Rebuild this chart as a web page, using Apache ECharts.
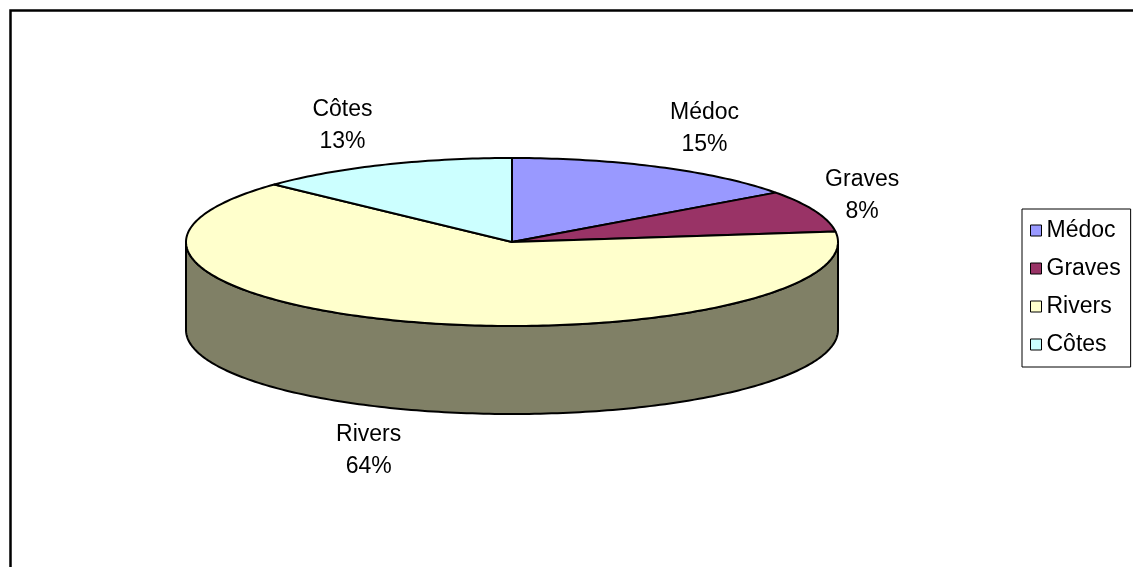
<!DOCTYPE html>
<html>
<head>
<meta charset="utf-8">
<style>
html,body{margin:0;padding:0;background:#fff;}
#chart{width:1133px;height:567px;}
</style>
<script src="https://cdn.jsdelivr.net/npm/echarts@6/dist/echarts.min.js"></script>
</head>
<body>
<div id="chart"></div>
<script>
// ---- data ----
const categories = ['Médoc', 'Graves', 'Rivers', 'Côtes'];
const values = [15, 8, 64, 13];
const topColors = ['#9999FF', '#993366', '#FFFFCC', '#CCFFFF'];
const sideColors = ['#4D4D80', '#4D1A33', '#808066', '#668080'];

// ---- layout / style ----
const CX = 512, CY = 242, RX = 326, RY = 84, DEPTH = 88;
const FONT = '23px "Liberation Sans", Arial, sans-serif';
const total = values.reduce((a, b) => a + b, 0);

const measureCtx = document.createElement('canvas').getContext('2d');
measureCtx.font = FONT;
function textWidth(lines) {
  return Math.max.apply(null, lines.map(l => measureCtx.measureText(l).width));
}
function pt(t, dy) {
  return [CX + RX * Math.sin(t), CY - RY * Math.cos(t) + (dy || 0)];
}
function arc(a, b, dy) {
  const pts = [];
  const n = Math.max(2, Math.ceil(Math.abs(b - a) / (Math.PI / 180)));
  for (let k = 0; k <= n; k++) pts.push(pt(a + (b - a) * k / n, dy));
  return pts;
}

function renderItem(params, api) {
  const i = params.seriesIndex;
  let cum = 0;
  for (let k = 0; k < i; k++) cum += values[k];
  const start = cum / total * Math.PI * 2;
  const end = (cum + values[i]) / total * Math.PI * 2;
  const children = [];
  // visible side (front half between 90° and 270°)
  const a = Math.max(start, Math.PI / 2), b = Math.min(end, Math.PI * 3 / 2);
  if (a < b) {
    const sidePts = arc(a, b, 0).concat(arc(b, a, DEPTH));
    children.push({
      type: 'polygon', z2: 1,
      shape: { points: sidePts },
      style: { fill: sideColors[i], stroke: '#000', lineWidth: 2, lineJoin: 'round' }
    });
  }
  const topPts = [[CX, CY]].concat(arc(start, end, 0));
  children.push({
    type: 'polygon', z2: 2,
    shape: { points: topPts },
    style: { fill: topColors[i], stroke: '#000', lineWidth: 2, lineJoin: 'round' }
  });
  // label
  const mid = (start + end) / 2;
  const s = Math.sin(mid), c = Math.cos(mid);
  const pe = pt(mid, c < 0 ? DEPTH : 0);
  const lines = [categories[i], Math.round(values[i] / total * 100) + '%'];
  const w = textWidth(lines);
  const lx = pe[0] + Math.sign(s) * (10 + w / 2);
  const ly = pe[1] - c * (25 + 18);
  children.push({
    type: 'text', z2: 3,
    style: {
      text: lines.join('\n'), x: lx, y: ly,
      font: FONT, fill: '#000', textFill: '#000',
      align: 'center', verticalAlign: 'middle',
      textAlign: 'center', textVerticalAlign: 'middle',
      lineHeight: 32, textLineHeight: 32
    }
  });
  return { type: 'group', children: children };
}

const series = categories.map((name, i) => ({
  type: 'custom',
  name: name,
  coordinateSystem: 'none',
  silent: true,
  itemStyle: { color: topColors[i] },
  data: [values[i]],
  renderItem: renderItem
}));

const chart = echarts.init(document.getElementById('chart'), null, { renderer: 'canvas' });
chart.setOption({
  animation: false,
  backgroundColor: '#fff',
  legend: {
    orient: 'vertical',
    left: 1022, top: 209,
    padding: [10, 10, 11, 8],
    borderColor: '#000', borderWidth: 1,
    icon: 'rect',
    itemWidth: 11, itemHeight: 11,
    itemGap: 15, itemTextGap: 10,
    selectedMode: false,
    itemStyle: { borderColor: '#000', borderWidth: 1 },
    textStyle: { fontFamily: '"Liberation Sans", Arial, sans-serif', fontSize: 23, color: '#000', lineHeight: 23 },
    data: categories
  },
  graphic: [{
    type: 'rect', left: 8, top: 8, silent: true,
    shape: { width: 1140, height: 600 },
    style: { fill: 'none', stroke: '#000', lineWidth: 2.5 }
  }],
  series: series
});
</script>
</body>
</html>
